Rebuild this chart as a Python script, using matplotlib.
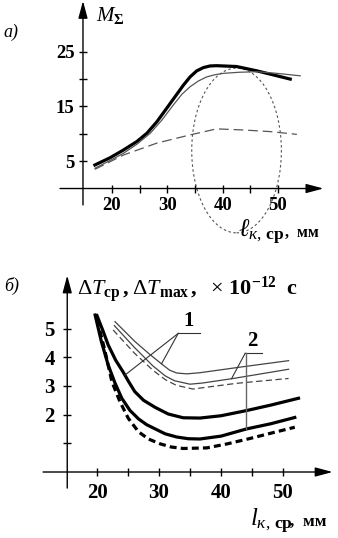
import numpy as np
import matplotlib.pyplot as plt
from matplotlib.patches import Ellipse

plt.rcParams['font.family'] = ['Liberation Serif', 'DejaVu Serif']
plt.rcParams['mathtext.fontset'] = 'custom'
plt.rcParams['mathtext.rm'] = 'Liberation Serif'
plt.rcParams['mathtext.it'] = 'Liberation Serif:italic'
plt.rcParams['mathtext.bf'] = 'Liberation Serif:bold'
plt.rcParams['lines.scale_dashes'] = False
plt.rcParams['lines.solid_joinstyle'] = 'round'
plt.rcParams['lines.dash_joinstyle'] = 'round'

# --- panel a): M_sigma vs l_k,sr ---
a_thick_x = [16.9, 19.6, 22.0, 24.5, 26.3, 28.1, 29.9, 31.4, 32.9, 34.1, 35.3, 36.5, 37.7,
             38.9, 42.5, 46.2, 49.8, 52.2]
a_thick_y = [4.3, 5.6, 7.0, 8.6, 10.1, 12.2, 14.7, 16.8, 18.9, 20.4, 21.5, 22.1, 22.4,
             22.45, 22.3, 21.5, 20.6, 20.0]
a_thin_x = [16.9, 19.6, 22.0, 24.5, 26.9, 29.0, 31.1, 32.6, 34.1, 35.6, 37.1, 38.6, 40.1,
            43.0, 46.2, 49.8, 54.0]
a_thin_y = [3.7, 5.1, 6.4, 8.1, 10.1, 12.5, 15.3, 17.2, 18.6, 19.65, 20.4, 20.8, 21.05,
            21.25, 21.35, 21.05, 20.6]
a_dash_x = [16.9, 22.0, 28.1, 34.1, 38.9, 43.7, 48.6, 53.4]
a_dash_y = [3.5, 6.1, 8.3, 9.8, 10.9, 10.7, 10.4, 9.9]
a_xticks = [20, 25, 30, 35, 40, 45, 50]
a_xlabels = ['20', '', '30', '', '40', '', '50']
a_yticks = [5, 10, 15, 20, 25]
a_ylabels = ['5', '', '15', '', '25']

# --- panel b): dT vs l_k,sr ---
b_thick1_x = [20.0, 21.0, 21.8, 23.0, 24.2, 25.1, 26.1, 27.5, 29.4, 31.5, 33.9, 36.6, 40.0,
              44.1, 48.0, 52.5]
b_thick1_y = [5.45, 4.9, 4.43, 3.9, 3.49, 3.15, 2.8, 2.5, 2.25, 2.02, 1.89, 1.88, 1.96,
              2.14, 2.33, 2.57]
b_thick2_x = [19.7, 20.7, 21.8, 22.9, 24.0, 25.3, 26.7, 28.0, 29.4, 31.0, 32.85, 34.7, 36.6,
              40.0, 44.1, 48.0, 51.9]
b_thick2_y = [5.47, 4.55, 3.73, 3.1, 2.57, 2.15, 1.85, 1.65, 1.5, 1.33, 1.22, 1.16, 1.15,
              1.25, 1.5, 1.68, 1.9]
b_thickd_x = [20.0, 21.2, 22.4, 23.7, 25.05, 26.7, 28.3, 30.2, 32.0, 33.9, 37.7, 41.0, 44.7,
              48.0, 51.9]
b_thickd_y = [5.3, 4.3, 3.15, 2.45, 1.87, 1.4, 1.15, 0.98, 0.87, 0.82, 0.84, 0.98, 1.17,
              1.35, 1.56]
b_thin1_x = [22.9, 26.1, 28.5, 30.4, 31.7, 32.85, 34.5, 36.6, 43.6, 50.9]
b_thin1_y = [5.24, 4.55, 4.1, 3.77, 3.55, 3.45, 3.42, 3.46, 3.67, 3.88]
b_thin2_x = [22.8, 26.0, 29.0, 31.0, 32.5, 35.0, 37.0, 42.0, 50.9]
b_thin2_y = [5.1, 4.35, 3.7, 3.35, 3.18, 3.06, 3.1, 3.26, 3.58]
b_thind_x = [22.6, 26.0, 29.0, 31.0, 32.8, 35.5, 37.5, 42.5, 50.9]
b_thind_y = [4.95, 4.15, 3.55, 3.22, 3.02, 2.89, 2.95, 3.09, 3.26]
b_xticks = [20, 25, 30, 35, 40, 45, 50]
b_xlabels = ['20', '', '30', '', '40', '', '50']
b_yticks = [1, 2, 3, 4, 5]
b_ylabels = ['', '2', '3', '4', '5']

W, H = 338, 538
fig = plt.figure(figsize=(W / 100, H / 100), dpi=100)


def ftext(px, py, s, **kw):
    fig.text(px / W, 1 - py / H, s, **kw)


def setup(ax, x0, xs, xe, ys, ye, size):
    for s in ['top', 'right']:
        ax.spines[s].set_visible(False)
    ax.spines['left'].set_position(('data', x0))
    ax.spines['bottom'].set_position(('data', 0))
    ax.spines['left'].set_color('none')
    ax.spines['bottom'].set_color('none')
    ax.patch.set_visible(False)
    arrow = dict(arrowstyle='-|>,head_length=0.75,head_width=0.2', mutation_scale=14,
                 lw=1, color='black', shrinkA=0, shrinkB=0)
    ax.annotate('', xy=(xe, 0), xytext=(xs, 0), arrowprops=arrow, annotation_clip=False)
    ax.annotate('', xy=(x0, ye), xytext=(x0, ys), arrowprops=arrow, annotation_clip=False)
    ax.tick_params(direction='inout', length=6, width=1, labelsize=size)


# panel a
ax1 = fig.add_axes([56.7 / W, 1 - 210.4 / H, 276.7 / W, 207.9 / H])
ax1.set_xlim(10, 60)
ax1.set_ylim(-4, 34)
setup(ax1, 14.75, 10.6, 58.2, -3, 34.3, 13.5)
ax1.set_xticks(a_xticks, a_xlabels, fontweight='bold')
ax1.set_yticks(a_yticks, a_ylabels, fontweight='bold')
ax1.tick_params(axis='x', pad=3)
ax1.tick_params(axis='y', pad=3)
ax1.plot(a_thick_x, a_thick_y, color='black', lw=2.3)
ax1.plot(a_thin_x, a_thin_y, color='#555555', lw=0.9)
ax1.plot(a_dash_x, a_dash_y, color='#555555', lw=0.9, ls=(0, (7, 3.5)))
ax1.add_patch(Ellipse((42.5, 6.95), 16.2, 30.1, fill=False, ec='#555555', lw=0.8,
                      ls=(0, (1.8, 1.8)), clip_on=False))

ftext(3, 37, 'а)', fontsize=13, style='italic')
ftext(96, 21, r'$M_{\mathbf{Σ}}$', fontsize=15, va='baseline')
ftext(238, 237, r'$\ell_{к,\,\mathbf{ср}}$', fontsize=18, va='baseline')
ftext(285, 237, ',  мм', fontsize=11.5, fontweight='bold', va='baseline')

# panel b
ax2 = fig.add_axes([35 / W, 1 - 500.7 / H, 300.7 / W, 226.7 / H])
ax2.set_xlim(10, 58.5)
ax2.set_ylim(-1, 6.9)
setup(ax2, 15.2, 11.3, 58.0, -0.56, 6.85, 15)
ax2.set_xticks(b_xticks, b_xlabels, fontweight='bold')
ax2.set_yticks(b_yticks, b_ylabels, fontweight='bold')
ax2.tick_params(axis='x', pad=5)
ax2.tick_params(axis='y', pad=6)
ax2.plot(b_thick1_x, b_thick1_y, color='black', lw=2.3)
ax2.plot(b_thick2_x, b_thick2_y, color='black', lw=2.3)
ax2.plot(b_thickd_x, b_thickd_y, color='black', lw=2.3, ls=(0, (5, 3)))
ax2.plot(b_thin1_x, b_thin1_y, color='#444444', lw=0.9)
ax2.plot(b_thin2_x, b_thin2_y, color='#444444', lw=0.9)
ax2.plot(b_thind_x, b_thind_y, color='#444444', lw=0.9, ls=(0, (4.5, 2.5)))

# leaders for curve labels 1 and 2
lead = dict(color='#333333', lw=0.8, clip_on=False)
ax2.plot([33.1, 36.6], [4.83, 4.83], **lead)
ax2.plot([33.1, 24.5], [4.83, np.interp(24.5, b_thick1_x, b_thick1_y)], **lead)
ax2.plot([33.1, 30.4], [4.83, np.interp(30.4, b_thin1_x, b_thin1_y)], **lead)
ax2.text(34.7, 4.9, '1', fontsize=15, fontweight='bold', ha='center', va='bottom')
ax2.plot([43.9, 46.6], [4.14, 4.14], **lead)
ax2.plot([43.9, 41.7], [4.14, np.interp(41.7, b_thin2_x, b_thin2_y)], **lead)
ax2.plot([44.0, 44.0], [4.14, np.interp(44.0, b_thick2_x, b_thick2_y)], color='#666666', lw=1.0)
ax2.text(45.0, 4.2, '2', fontsize=15, fontweight='bold', ha='center', va='bottom')

ftext(4, 291, 'б)', fontsize=13, style='italic')
ftext(77, 295, r'$\Delta T_{\mathbf{ср}}\,\mathbf{,}\;\Delta T_{\mathbf{max}}\,\mathbf{,}\ \ \times\,\mathbf{10}^{\mathbf{-12}}\ \ \mathbf{с}$',
      fontsize=16, va='baseline')
ftext(250, 526, r'$l_{к,\,\mathbf{ср}}$', fontsize=18, va='baseline')
ftext(290, 526, ',  мм', fontsize=12.5, fontweight='bold', va='baseline')

fig.savefig('out.png', dpi=100)
